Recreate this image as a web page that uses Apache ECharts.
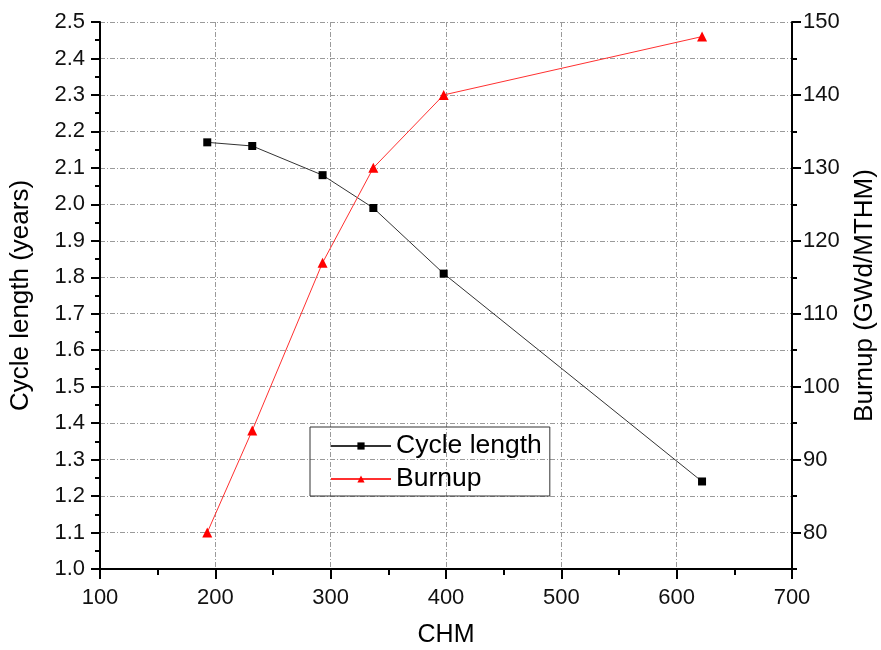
<!DOCTYPE html>
<html>
<head>
<meta charset="utf-8">
<script src="https://cdn.jsdelivr.net/npm/echarts@6/dist/echarts.min.js"></script>
<style>html,body{margin:0;padding:0;background:#fff}#c{width:881px;height:650px}</style>
</head>
<body>
<div id="c"></div>
<script>
var chm = [193, 232, 293, 337, 398, 622];
var cycleLength = [2.17, 2.16, 2.08, 1.99, 1.81, 1.24];
var burnup = [80, 94, 117, 130, 140, 148];
var burnupMajorTicks = [80, 90, 100, 110, 120, 130, 140, 150];
var burnupMinorTicks = [75, 85, 95, 105, 115, 125, 135, 145];

var FONT = "'Liberation Sans', Arial, sans-serif";
var chart = echarts.init(document.getElementById('c'));
var gridLine = {show: true, lineStyle: {color: '#9a9a9a', width: 1, type: [5, 2, 1, 2]}};
var axisLine = {show: true, onZero: false, lineStyle: {color: '#000', width: 2}};

chart.setOption({
  animation: false,
  backgroundColor: '#fff',
  grid: {left: 100, right: 89, top: 22, bottom: 81, containLabel: false, outerBoundsMode: 'none'},
  legend: {
    left: 310, top: 427, orient: 'vertical',
    itemWidth: 60, itemHeight: 9, itemGap: 3,
    padding: [4, 8, 2, 20],
    borderColor: '#333', borderWidth: 1,
    textStyle: {fontFamily: FONT, fontSize: 26.5, color: '#000', lineHeight: 30},
    data: ['Cycle length', 'Burnup']
  },
  xAxis: {
    type: 'value', min: 100, max: 700, interval: 100,
    name: 'CHM', nameLocation: 'middle', nameGap: 54, nameMoveOverlap: false,
    nameTextStyle: {fontFamily: FONT, fontSize: 25, color: '#000'},
    axisLine: axisLine,
    axisTick: {show: true, inside: false, length: 10, lineStyle: {color: '#000', width: 2}},
    minorTick: {show: true, splitNumber: 2, length: 6, lineStyle: {color: '#000', width: 2}},
    axisLabel: {fontFamily: FONT, fontSize: 22, color: '#111', margin: 18},
    splitLine: gridLine
  },
  yAxis: [{
    type: 'value', min: 1.0, max: 2.5, interval: 0.1, position: 'left',
    name: 'Cycle length (years)', nameLocation: 'middle', nameGap: 66, nameMoveOverlap: false,
    nameTextStyle: {fontFamily: FONT, fontSize: 26, color: '#000'},
    axisLine: axisLine,
    axisTick: {show: true, inside: false, length: 9, lineStyle: {color: '#000', width: 2}},
    minorTick: {show: true, splitNumber: 2, length: 5, lineStyle: {color: '#000', width: 2}},
    axisLabel: {fontFamily: FONT, fontSize: 22, color: '#111', margin: 15,
      formatter: function (v) { return v.toFixed(1); }},
    splitLine: gridLine
  }, {
    type: 'value', min: 75, max: 150, interval: 5, position: 'right',
    name: 'Burnup (GWd/MTHM)', nameLocation: 'middle', nameGap: 60, nameMoveOverlap: false,
    nameTextStyle: {fontFamily: FONT, fontSize: 26, color: '#000'},
    axisLine: axisLine,
    axisTick: {show: true, inside: false, length: 9, customValues: burnupMajorTicks, lineStyle: {color: '#000', width: 2}},
    axisLabel: {fontFamily: FONT, fontSize: 22, color: '#111', margin: 11, customValues: burnupMajorTicks},
    splitLine: {show: false}
  }, {
    type: 'value', min: 75, max: 150, interval: 5, position: 'right',
    axisLine: {show: false},
    axisTick: {show: true, inside: false, length: 5, customValues: burnupMinorTicks, lineStyle: {color: '#000', width: 2}},
    axisLabel: {show: false},
    splitLine: {show: false}
  }],
  series: [{
    name: 'Cycle length', type: 'line', yAxisIndex: 0,
    data: chm.map(function (x, i) { return [x, cycleLength[i]]; }),
    symbol: 'rect', symbolSize: 8,
    itemStyle: {color: '#000'},
    lineStyle: {color: '#333', width: 1}
  }, {
    name: 'Burnup', type: 'line', yAxisIndex: 1,
    data: chm.map(function (x, i) { return [x, burnup[i]]; }),
    symbol: 'triangle', symbolSize: 10,
    itemStyle: {color: '#ff0000'},
    lineStyle: {color: '#ff3030', width: 1}
  }]
});
</script>
</body>
</html>
